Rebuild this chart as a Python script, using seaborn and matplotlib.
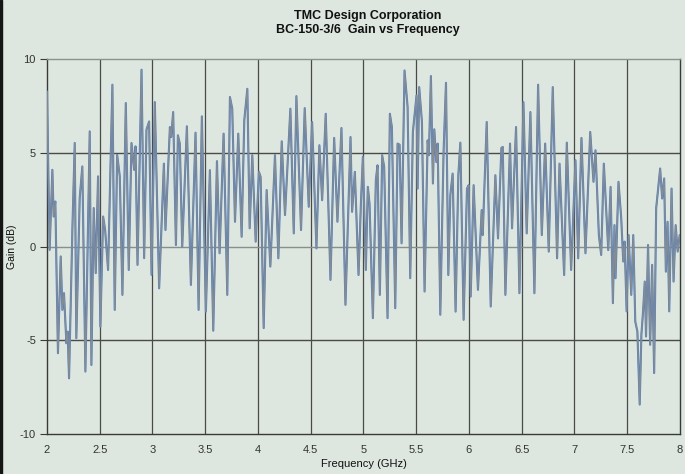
import matplotlib
matplotlib.use("Agg")
import matplotlib.pyplot as plt
import matplotlib.patches as mpatches
import seaborn as sns
import pandas as pd

# ─── Data (peaks and troughs) ────────────────────────────────────────────
freq_ghz = [
    2.000, 2.025, 2.051, 2.063, 2.079, 2.104, 2.130, 2.146, 2.161, 2.184,
    2.196, 2.209, 2.241, 2.263, 2.278, 2.310, 2.335, 2.364, 2.405, 2.421,
    2.443, 2.462, 2.484, 2.506, 2.532, 2.551, 2.579, 2.620, 2.642, 2.665,
    2.690, 2.715, 2.747, 2.775, 2.801, 2.826, 2.839, 2.858, 2.896, 2.921,
    2.943, 2.968, 2.991, 3.022, 3.063, 3.108, 3.123, 3.165, 3.177, 3.196,
    3.222, 3.241, 3.259, 3.282, 3.326, 3.364, 3.408, 3.437, 3.468, 3.506,
    3.544, 3.576, 3.611, 3.636, 3.674, 3.709, 3.734, 3.756, 3.782, 3.813,
    3.845, 3.870, 3.899, 3.921, 3.946, 3.978, 4.009, 4.025, 4.054, 4.082,
    4.117, 4.161, 4.193, 4.225, 4.256, 4.307, 4.339, 4.364, 4.408, 4.443,
    4.481, 4.513, 4.554, 4.582, 4.608, 4.642, 4.687, 4.722, 4.753, 4.791,
    4.829, 4.877, 4.892, 4.918, 4.953, 4.975, 4.994, 5.022, 5.041, 5.057,
    5.089, 5.117, 5.133, 5.155, 5.177, 5.196, 5.228, 5.250, 5.269, 5.301,
    5.323, 5.342, 5.361, 5.389, 5.418, 5.443, 5.468, 5.503, 5.513, 5.528,
    5.554, 5.579, 5.608, 5.620, 5.639, 5.658, 5.671, 5.690, 5.703, 5.728,
    5.759, 5.782, 5.804, 5.823, 5.845, 5.873, 5.899, 5.918, 5.949, 5.981,
    5.997, 6.016, 6.044, 6.085, 6.120, 6.130, 6.168, 6.206, 6.250, 6.275,
    6.307, 6.320, 6.345, 6.389, 6.408, 6.446, 6.478, 6.516, 6.547, 6.582,
    6.620, 6.655, 6.690, 6.722, 6.756, 6.794, 6.835, 6.858, 6.902, 6.927,
    6.968, 7.009, 7.035, 7.066, 7.104, 7.149, 7.180, 7.199, 7.231, 7.253,
    7.278, 7.320, 7.342, 7.364, 7.379, 7.389, 7.417, 7.443, 7.462, 7.475,
    7.494, 7.513, 7.538, 7.557, 7.576, 7.596, 7.618, 7.634, 7.650, 7.666,
    7.678, 7.697, 7.717, 7.736, 7.755, 7.774, 7.793, 7.812, 7.831, 7.850,
    7.866, 7.882, 7.898, 7.920, 7.939, 7.959, 7.978, 7.997,
]

gain_db = [
    8.27, -0.18, 4.09, 1.60, 2.40, -5.69, -0.53, -3.38, -2.49, -5.16,
    -4.54, -7.03, 0.98, 5.52, -4.89, 2.58, 4.27, -6.67, 6.14, -6.32,
    2.05, -1.42, 3.74, -4.27, 1.60, 0.89, -1.25, 8.63, -3.38, 4.89,
    3.74, -2.58, 7.65, -1.25, 5.52, 4.09, 5.34, -0.98, 9.43, -0.62,
    6.23, 6.67, -1.51, 7.70, -2.23, 4.42, 0.88, 6.37, 5.84, 7.17,
    0.08, 5.93, 5.49, -0.01, 6.41, -2.05, 6.07, -3.38, 6.94, -3.47,
    4.07, -4.49, 4.55, -0.36, 6.02, -2.58, 7.97, 7.35, 1.32, 6.02,
    0.52, 6.73, 8.41, 0.97, 4.87, 0.26, 3.98, 3.71, -4.35, 3.01,
    -1.07, 4.87, -0.63, 5.61, 1.68, 7.35, 0.70, 8.02, 0.88, 7.38,
    2.12, 6.64, -0.10, 5.40, 2.47, 7.08, -1.78, 5.79, 1.32, 6.32,
    -3.11, 5.84, 1.85, 3.98, -1.52, 2.21, 4.78, -1.25, 3.18, 2.30,
    -3.82, 3.54, 4.33, -2.58, 4.87, 4.25, -3.82, 7.08, 6.37, -3.29,
    5.49, 5.43, 0.17, 9.39, 7.44, -1.69, 6.11, 8.06, 3.09, 8.50,
    6.64, -2.40, 5.66, 4.87, 9.09, 3.36, 6.25, 4.51, 5.49, -3.64,
    5.04, 8.73, -1.52, 2.74, 3.89, -3.47, 3.80, 5.54, -3.91, 3.09,
    3.27, -2.67, 3.27, -2.31, 1.94, 0.61, 6.64, -3.20, 3.80, 0.43,
    5.26, 5.31, -2.58, 5.49, 0.97, 6.37, -2.49, 7.70, 0.70, 7.17,
    -2.49, 8.63, 0.61, 5.49, -0.27, 8.50, -0.63, 4.42, -1.52, 5.54,
    -1.25, 4.60, -0.63, 5.79, -0.36, 6.11, 3.45, 5.13, 0.61, -0.45,
    4.42, -0.19, 3.18, -3.02, 1.14, -1.69, 3.45, 1.50, -0.80, 0.26,
    -3.46, 0.61, -2.58, 0.61, -4.00, -4.53, -8.43, -4.71, -3.46, -1.87,
    -4.80, 0.08, -5.24, -0.98, -6.75, 2.03, 3.09, 4.16, 2.56, 3.63,
    -1.34, 1.32, -3.46, 3.09, -1.87, 1.14, -0.27, 0.61,
]

x_ticks = [2, 2.5, 3, 3.5, 4, 4.5, 5, 5.5, 6, 6.5, 7, 7.5, 8]
x_tick_labels = ["2", "2.5", "3", "3.5", "4", "4.5", "5", "5.5", "6", "6.5", "7", "7.5", "8"]
y_ticks = [-10, -5, 0, 5, 10]

TITLE = "TMC Design Corporation\nBC-150-3/6  Gain vs Frequency"

# ─── Style ────────────────────────────────────────────────────────────────
BG = "#dde6df"
GRID = "#4a4a4a"

sns.set_theme(style="white")
plt.rcParams["font.family"] = ["Liberation Sans", "DejaVu Sans"]
plt.rcParams["axes.unicode_minus"] = False

df = pd.DataFrame({"freq": freq_ghz, "gain": gain_db})

fig = plt.figure(figsize=(6.85, 4.74), dpi=100, facecolor=BG)
ax = fig.add_axes([0.0686, 0.0844, 0.9241, 0.7911])
ax.set_facecolor(BG)

# two traces sitting on top of each other: blue underneath, grey on top
sns.lineplot(data=df, x="freq", y="gain", ax=ax, color="#4f80c6",
             linewidth=1.5, estimator=None, sort=False, zorder=3)
sns.lineplot(data=df, x="freq", y="gain", ax=ax, color="#878c90",
             linewidth=0.9, estimator=None, sort=False, zorder=4)

ax.set_xlim(2, 8)
ax.set_ylim(-10, 10)
ax.set_xticks(x_ticks)
ax.set_xticklabels(x_tick_labels)
ax.set_yticks(y_ticks)

for xv in x_ticks[1:-1]:
    ax.axvline(xv, color=GRID, linewidth=0.9, zorder=1)
for yv in y_ticks[1:-1]:
    ax.axhline(yv, color=GRID if yv != 0 else "#8a8f8c", linewidth=1.0, zorder=1)

for side in ["left", "bottom", "right"]:
    ax.spines[side].set_color("#3a3a3a")
    ax.spines[side].set_linewidth(1.0)
ax.spines["top"].set_color("#8c918e")
ax.spines["top"].set_linewidth(1.0)

ax.tick_params(axis="x", length=0, pad=8, labelsize=8, labelcolor="#333333")
ax.tick_params(axis="y", length=5, width=0.8, color="#3a3a3a", direction="out",
               pad=3, labelsize=8, labelcolor="#333333", left=True)

ax.set_xlabel("Frequency (GHz)", fontsize=8, color="#111111", labelpad=3)
ax.set_ylabel("Gain (dB)", fontsize=7.5, color="#111111", labelpad=2)
fig.suptitle(TITLE, x=0.537, y=0.978, fontsize=9, fontweight="bold",
             color="#111111", linespacing=1.2)

# dark strip down the left edge of the screenshot
fig.add_artist(mpatches.Rectangle((0, 0), 0.0035, 1, transform=fig.transFigure,
                                  color="#151515", zorder=10))

fig.savefig("out.png", dpi=100, facecolor=BG)
